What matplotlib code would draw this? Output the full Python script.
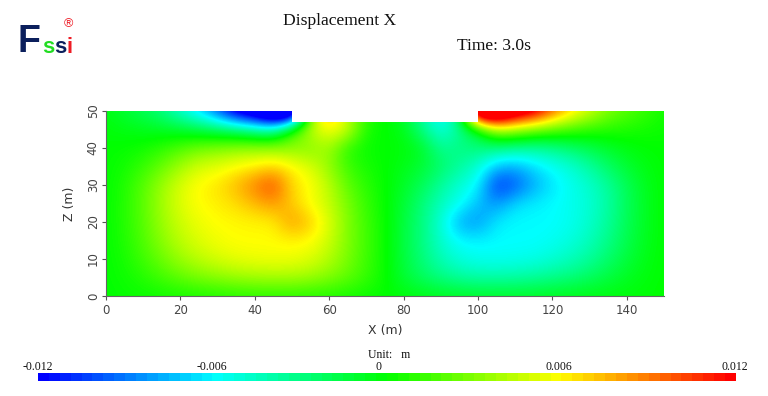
import numpy as np
import matplotlib
matplotlib.use("Agg")
import matplotlib.pyplot as plt
from matplotlib.colors import LinearSegmentedColormap
from matplotlib.patches import Polygon

# field nodes: x every 5 m, z every 5 m
x_nodes = list(range(0, 155, 5))
z_nodes = list(range(0, 55, 5))

# displacement in mm, one row per z node, top row overshoots so the wedges stay thin
disp_mm = [
    [0, 0.1, 0.2, 0.3, 0.4, 0.5, 0.6, 0.7, 0.8, 0.8, 0.8, 0.7, 0.6, 0.4, 0.2, 0, -0.2, -0.4, -0.6, -0.7, -0.8, -0.8, -0.8, -0.7, -0.6, -0.5, -0.4, -0.3, -0.2, -0.1, 0],
    [0, 0.3, 0.8, 1.5, 2.2, 2.8, 3.2, 3.6, 3.8, 3.9, 3.9, 3.6, 3, 2.2, 1.2, 0.2, -1.2, -2.2, -3, -3.6, -3.9, -3.9, -3.8, -3.6, -3.2, -2.8, -2.2, -1.5, -0.8, -0.3, 0],
    [0, 0.5, 1.4, 2.5, 3.6, 4.4, 5, 5.4, 5.6, 5.7, 5.6, 5.2, 4.2, 2.8, 1.4, 0.2, -1.4, -2.8, -4.2, -5.2, -5.6, -5.7, -5.6, -5.4, -5, -4.4, -3.6, -2.5, -1.4, -0.5, 0],
    [0, 0.7, 1.8, 3.2, 4.4, 5.2, 5.7, 6, 6, 6, 6.2, 6, 4.8, 3, 1.5, 0.2, -1.5, -3, -4.8, -6, -6.2, -6, -6, -6, -5.7, -5.2, -4.4, -3.2, -1.8, -0.7, 0],
    [0, 0.8, 2, 3.6, 4.8, 5.6, 6, 6.1, 6.2, 6.3, 8.4, 7.2, 5.2, 3, 1.4, 0.2, -1.4, -3, -5, -8, -8.5, -6.4, -6, -6, -6, -5.6, -4.8, -3.6, -2, -0.8, 0],
    [0, 0.8, 2.1, 3.8, 5.2, 6, 6.3, 6.8, 7.6, 8.4, 7.2, 5.8, 4.6, 2.8, 1.2, 0.1, -1.2, -2.8, -4.4, -5.6, -7.5, -8.5, -6.8, -6.3, -6, -5.6, -5, -3.8, -2.1, -0.8, 0],
    [0, 0.7, 2, 3.6, 5.1, 6.1, 6.6, 7.6, 9, 10.4, 6.8, 6, 4.4, 2.2, 0.9, 0.1, -0.9, -2, -3.6, -5, -6, -11, -10, -8, -6.6, -5.6, -4.8, -3.6, -2, -0.7, 0],
    [0, 0.4, 1.2, 2.4, 3.8, 5, 5.4, 6, 6.4, 7, 6.2, 5.2, 3.4, 1.4, 0.5, 0, -0.5, -1.2, -2.4, -3.6, -5, -7.5, -8, -6.8, -5.8, -5, -3.8, -2.4, -1.2, -0.4, 0],
    [0, 0.1, 0.4, 1, 1.8, 2.6, 3, 3.4, 3.6, 3.6, 3.2, 3, 3.8, 0.8, 0.2, 0, -0.2, -0.8, -3.4, -3, -2.8, -3.2, -3.6, -3.8, -3.4, -2.6, -1.8, -1, -0.4, -0.1, 0],
    [-0.2, -0.4, -0.6, -0.8, -1, -1.5, -2, -2.5, -3.5, -4, 1.2, 4.5, 6, 5, 0.5, 0, -0.5, -3, -5.5, -3.5, -1, 4, 3.5, 2.5, 2, 1.5, 1, 0.8, 0.6, 0.4, 0.2],
    [-0.4, -1.2, -2, -3, -5, -7, -10, -14, -16, -20, -20, 3, 9, 4, 1, 0, -1, -4, -6.5, -3, 20, 20, 16, 14, 10, 7, 5, 3, 2, 1.2, 0.4],
]

x_ticks = [0, 20, 40, 60, 80, 100, 120, 140]
z_ticks = [0, 10, 20, 30, 40, 50]
bar_low, bar_high = -0.012, 0.012
bar_labels = ["-0.012", "-0.006", "0", "0.006", "0.012"]
bar_label_px = [38, 212, 379, 559, 735]

W, H = 768, 396
SERIF = "Liberation Serif"
LOGO = "Liberation Sans"


def px_box(x0, y0, x1, y1):
    return [x0 / W, 1 - y1 / H, (x1 - x0) / W, (y1 - y0) / H]


def px_text(x, y, s, **kw):
    kw.setdefault("ha", "center")
    kw.setdefault("va", "center")
    fig.text(x / W, 1 - y / H, s, **kw)


cmap = LinearSegmentedColormap.from_list(
    "fssi", ["#0000ff", "#00ffff", "#00ff00", "#ffff00", "#ff0000"], N=256
)

fig = plt.figure(figsize=(W / 100, H / 100), dpi=100)

ax = fig.add_axes(px_box(106, 111, 664, 296))
field = ax.imshow(
    np.array(disp_mm), origin="lower", cmap=cmap, vmin=-12, vmax=12, aspect="auto",
    extent=[x_nodes[0] - 2.5, x_nodes[-1] + 2.5, z_nodes[0] - 2.5, z_nodes[-1] + 2.5],
    interpolation="bicubic",
)
ground = Polygon(
    [(0, 0), (150, 0), (150, 50), (100, 50), (100, 47), (50, 47), (50, 50), (0, 50)],
    transform=ax.transData, fill=False, edgecolor="none",
)
ax.add_patch(ground)
field.set_clip_path(ground)

ax.set_xlim(0, 150)
ax.set_ylim(0, 50)
ax.set_xticks(x_ticks)
ax.set_yticks(z_ticks)
ax.set_xlabel("X (m)", fontsize=9, color="#333333", labelpad=5)
ax.set_ylabel("Z (m)", fontsize=9, color="#333333", labelpad=8)
ax.tick_params(length=3, width=0.8, color="#555555", labelcolor="#444444", labelsize=8.5, pad=3)
ax.tick_params(axis="y", labelrotation=90, pad=1.5)
for label in ax.get_yticklabels():
    label.set_va("center")
for side in ("top", "right"):
    ax.spines[side].set_visible(False)
for side in ("left", "bottom"):
    ax.spines[side].set_color("#666666")

# colour bar along the bottom
cax = fig.add_axes(px_box(38, 373, 736, 381))
cax.imshow(
    np.linspace(bar_low, bar_high, 64)[None, :], cmap=cmap, aspect="auto",
    extent=[bar_low, bar_high, 0, 1], interpolation="nearest",
)
cax.axis("off")
for x, label in zip(bar_label_px, bar_labels):
    px_text(x, 367.5, label, family=SERIF, fontsize=8.5, color="#111111")
px_text(389, 355, "Unit:   m", family=SERIF, fontsize=8.5, color="#111111")

px_text(340, 21, "Displacement X", family=SERIF, fontsize=12.6, color="#111111")
px_text(494, 46, "Time: 3.0s", family=SERIF, fontsize=12.6, color="#111111")

# logo
px_text(18, 52, "F", family=LOGO, fontsize=27, fontweight="bold", color="#0b1f5c", ha="left", va="baseline")
px_text(42, 53, "s", family=LOGO, fontsize=16, fontweight="bold", color="#22dd22", ha="left", va="baseline")
px_text(54.5, 53, "s", family=LOGO, fontsize=16, fontweight="bold", color="#0b1f5c", ha="left", va="baseline")
px_text(67, 53, "i", family=LOGO, fontsize=16, fontweight="bold", color="#ee1c25", ha="left", va="baseline")
px_text(68, 24, "®", family=LOGO, fontsize=9, color="#ee1c25")

fig.savefig("out.png", dpi=100)
